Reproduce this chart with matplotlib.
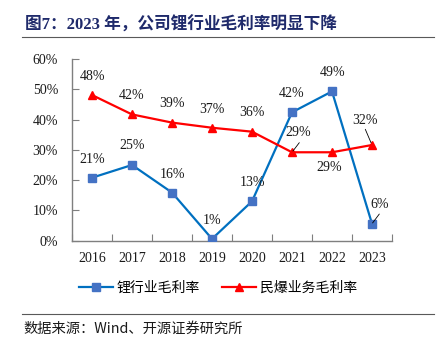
import matplotlib
matplotlib.use("Agg")
import matplotlib.pyplot as plt
from matplotlib.lines import Line2D

# ---- data ----
years = ['2016', '2017', '2018', '2019', '2020', '2021', '2022', '2023']
lithium = [20.8, 25.0, 15.9, 0.6, 13.0, 42.4, 49.3, 5.6]
explosive = [48.1, 41.7, 39.0, 37.3, 36.0, 29.2, 29.2, 31.6]
lithium_labels = ['21%', '25%', '16%', '1%', '13%', '42%', '49%', '6%']
explosive_labels = ['48%', '42%', '39%', '37%', '36%', '29%', '29%', '32%']
series_names = ['锂行业毛利率', '民爆业务毛利率']
yticks = [0, 10, 20, 30, 40, 50, 60]
title = '图7：2023 年，公司锂行业毛利率明显下降'
source = '数据来源：Wind、开源证券研究所'

# ---- layout (pixel offsets of labels relative to points) ----
W, H = 448, 351
PX = 0.72  # points per pixel at dpi 100
lith_off = [(0, -18.7), (0, -19), (0, -18.4), (0, -18.3), (0, -19), (0, -19), (0.6, -18.6), (7.3, -19.7)]
expl_off = [(0, -19), (0, -18.6), (0, -18.7), (0, -18.4), (0, -19), (6.6, -19.6), (-2.7, 15), (-7, -25)]
# leader lines: (series, index, start dx, start dy, shrink px)
leaders = [('e', 5, 7.3, -9.6, 1.6), ('e', 7, -6.7, -15.7, 2.4), ('l', 7, 7.3, -9.7, 1.0)]

serif = ['Liberation Serif', 'Noto Sans CJK SC']
cjk = ['Noto Sans CJK SC', 'Liberation Serif']

fig = plt.figure(figsize=(W / 100, H / 100), dpi=100)
ax = fig.add_axes([72 / W, 1 - 240.7 / H, 320 / W, 181.7 / H])

x = list(range(len(years)))
blue_line = '#0070C0'
blue_mark = '#4472C4'
red = '#FF0000'
ax.plot(x, lithium, color=blue_line, lw=1.6, marker='s', ms=5.5,
        mfc=blue_mark, mec=blue_mark, zorder=3)
ax.plot(x, explosive, color=red, lw=1.6, marker='^', ms=6,
        mfc=red, mec=red, zorder=3)

for i in x:
    dx, dy = lith_off[i]
    ax.annotate(lithium_labels[i], (i, lithium[i]), xytext=(dx * PX, -dy * PX),
                textcoords='offset points', ha='center', va='center',
                fontsize=10, family=serif, color='#1a1a1a')
    dx, dy = expl_off[i]
    ax.annotate(explosive_labels[i], (i, explosive[i]), xytext=(dx * PX, -dy * PX),
                textcoords='offset points', ha='center', va='center',
                fontsize=10, family=serif, color='#1a1a1a')

for s, i, sdx, sdy, shr in leaders:
    val = explosive[i] if s == 'e' else lithium[i]
    ax.annotate('', xy=(i, val), xytext=(sdx * PX, -sdy * PX), textcoords='offset points',
                arrowprops=dict(arrowstyle='-', color='black', lw=0.6,
                                shrinkA=0, shrinkB=shr * PX))

ax.set_xlim(-0.5, len(years) - 0.5)
ax.set_ylim(0, 60)
ax.set_yticks(yticks)
ax.set_yticklabels([f'{v}%' for v in yticks], family=serif, fontsize=10)
ax.set_xticks(x)
ax.set_xticklabels(years, family=serif, fontsize=10)
ax.set_xticks([i - 0.5 for i in range(len(years) + 1)], minor=True)
ax.tick_params(axis='x', which='major', length=0, pad=8, colors='#1a1a1a')
ax.tick_params(axis='x', which='minor', direction='in', length=5, color='#7f7f7f', width=0.8)
ax.tick_params(axis='y', direction='in', length=5, color='#7f7f7f', width=0.8, pad=10,
               labelcolor='#1a1a1a')
for sp in ['top', 'right']:
    ax.spines[sp].set_visible(False)
for sp in ['left', 'bottom']:
    ax.spines[sp].set_color('#7f7f7f')
    ax.spines[sp].set_linewidth(1.0)

handles = [Line2D([], [], color=blue_line, lw=1.6, marker='s', ms=5.5, mfc=blue_mark, mec=blue_mark),
           Line2D([], [], color=red, lw=1.6, marker='^', ms=6, mfc=red, mec=red)]
fig.legend(handles, series_names, loc='center', bbox_to_anchor=(218 / W, 1 - 288 / H),
           ncol=2, frameon=False, handlelength=2.4, handletextpad=0.3, columnspacing=1.6,
           prop={'family': cjk, 'size': 10})

# title and rules
fig.text(25 / W, 1 - 25 / H, title, fontsize=12, fontweight='bold', color='#1F2A6B',
         family=serif, va='center', ha='left')
fig.add_artist(Line2D([22 / W, 434 / W], [1 - 37 / H, 1 - 37 / H], color='#595959', lw=0.8))
fig.add_artist(Line2D([22 / W, 434 / W], [1 - 314 / H, 1 - 314 / H], color='#595959', lw=0.8))
fig.text(23 / W, 1 - 329 / H, source, fontsize=10.3, family=cjk, color='#1a1a1a',
         va='center', ha='left')

fig.savefig('out.png', dpi=100)
